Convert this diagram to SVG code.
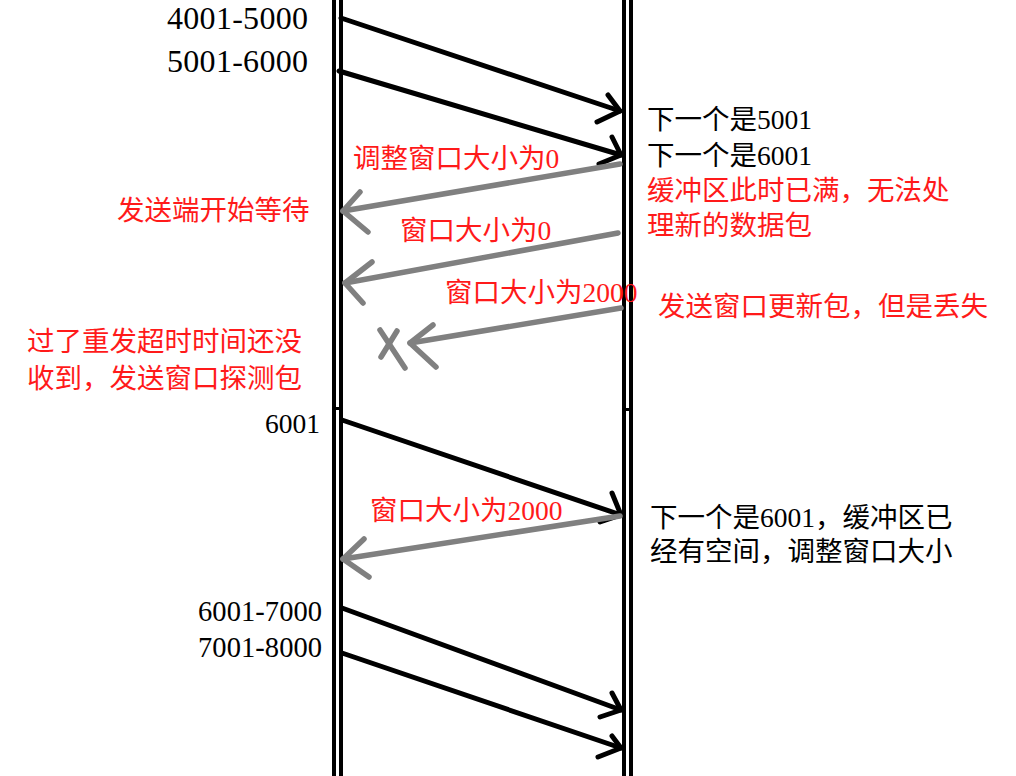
<svg xmlns="http://www.w3.org/2000/svg" width="1016" height="776" viewBox="0 0 1016 776">
  <style>
    text { font-family: "Liberation Serif", "Noto Sans CJK SC", serif; font-size: 27.5px; }
    .blk { fill: #000; }
    .red { fill: #ff1a1a; }
    .big { font-size: 32px; }
    .mid { font-size: 28.5px; }
    .life { stroke: #000; stroke-width: 4; fill: none; }
    .msg { stroke: #000; stroke-width: 5; fill: none; stroke-linecap: round; stroke-linejoin: round; }
    .ack { stroke: #808080; stroke-width: 5.5; fill: none; stroke-linecap: round; stroke-linejoin: round; }
  </style>
  <rect width="1016" height="776" fill="#fff"/>

  <g id="sender">
    <line class="life" x1="334" y1="0" x2="334" y2="776"/>
    <line class="life" x1="341" y1="0" x2="341" y2="776"/>
    <rect x="332" y="407" width="11" height="3" fill="#000"/>
  </g>
  <g id="receiver">
    <line class="life" x1="624" y1="0" x2="624" y2="776"/>
    <line class="life" x1="631" y1="0" x2="631" y2="776"/>
    <rect x="626" y="408" width="3" height="3" fill="#000"/>
  </g>

  <g id="connectors">
    <!-- 4001-5000 -->
    <line class="msg" x1="341" y1="18" x2="620" y2="111"/>
    <polyline class="msg" points="608,95 620,111 597,122"/>
    <!-- 5001-6000 -->
    <line class="msg" x1="339" y1="71" x2="621" y2="155"/>
    <polyline class="msg" points="612,137 621,155 599,164"/>
    <!-- window 0 -->
    <line class="ack" x1="620" y1="164" x2="343" y2="211"/>
    <polyline class="ack" points="360,192 343,211 368,232"/>
    <line class="ack" x1="618" y1="233" x2="345" y2="283"/>
    <polyline class="ack" points="372,262 345,283 363,303"/>
    <!-- window update lost -->
    <line class="ack" x1="621" y1="308" x2="410" y2="343"/>
    <polyline class="ack" points="433,325 410,343 436,367"/>
    <line class="ack" x1="380" y1="330" x2="405" y2="368"/>
    <line class="ack" x1="397" y1="331" x2="381" y2="357"/>
    <!-- 6001 probe -->
    <line class="msg" x1="342" y1="420" x2="621" y2="515"/>
    <polyline class="msg" points="612,493 621,515 600,522"/>
    <!-- window 2000 -->
    <line class="ack" x1="620" y1="516" x2="343" y2="559"/>
    <polyline class="ack" points="364,539 343,559 369,577"/>
    <!-- 6001-7000 -->
    <line class="msg" x1="342" y1="608" x2="621" y2="710"/>
    <polyline class="msg" points="612,693 621,710 600,717"/>
    <!-- 7001-8000 -->
    <line class="msg" x1="342" y1="653" x2="621" y2="748"/>
    <polyline class="msg" points="612,736 621,748 598,757"/>
  </g>

  <g id="sender-labels">
    <text class="blk big" x="167" y="29" textLength="141">4001-5000</text>
    <text class="blk big" x="167" y="72" textLength="141">5001-6000</text>
    <text class="red" x="117" y="220">发送端开始等待</text>
    <text class="red" x="27" y="351">过了重发超时时间还没</text>
    <text class="red" x="27" y="388">收到，发送窗口探测包</text>
    <text class="blk" x="265" y="433">6001</text>
    <text class="blk mid" x="198" y="621" textLength="124">6001-7000</text>
    <text class="blk mid" x="198" y="657" textLength="124">7001-8000</text>
  </g>

  <g id="message-labels">
    <text class="red" x="353" y="168">调整窗口大小为0</text>
    <text class="red" x="400" y="240">窗口大小为0</text>
    <text class="red" x="445" y="302">窗口大小为2000</text>
    <text class="red" x="370" y="520">窗口大小为2000</text>
  </g>

  <g id="receiver-labels">
    <text class="blk" x="647" y="129">下一个是5001</text>
    <text class="blk" x="647" y="165">下一个是6001</text>
    <text class="red" x="647" y="200">缓冲区此时已满，无法处</text>
    <text class="red" x="647" y="235">理新的数据包</text>
    <text class="red" x="658" y="316">发送窗口更新包，但是丢失</text>
    <text class="blk" x="650" y="527">下一个是6001，缓冲区已</text>
    <text class="blk" x="650" y="561">经有空间，调整窗口大小</text>
  </g>
</svg>
